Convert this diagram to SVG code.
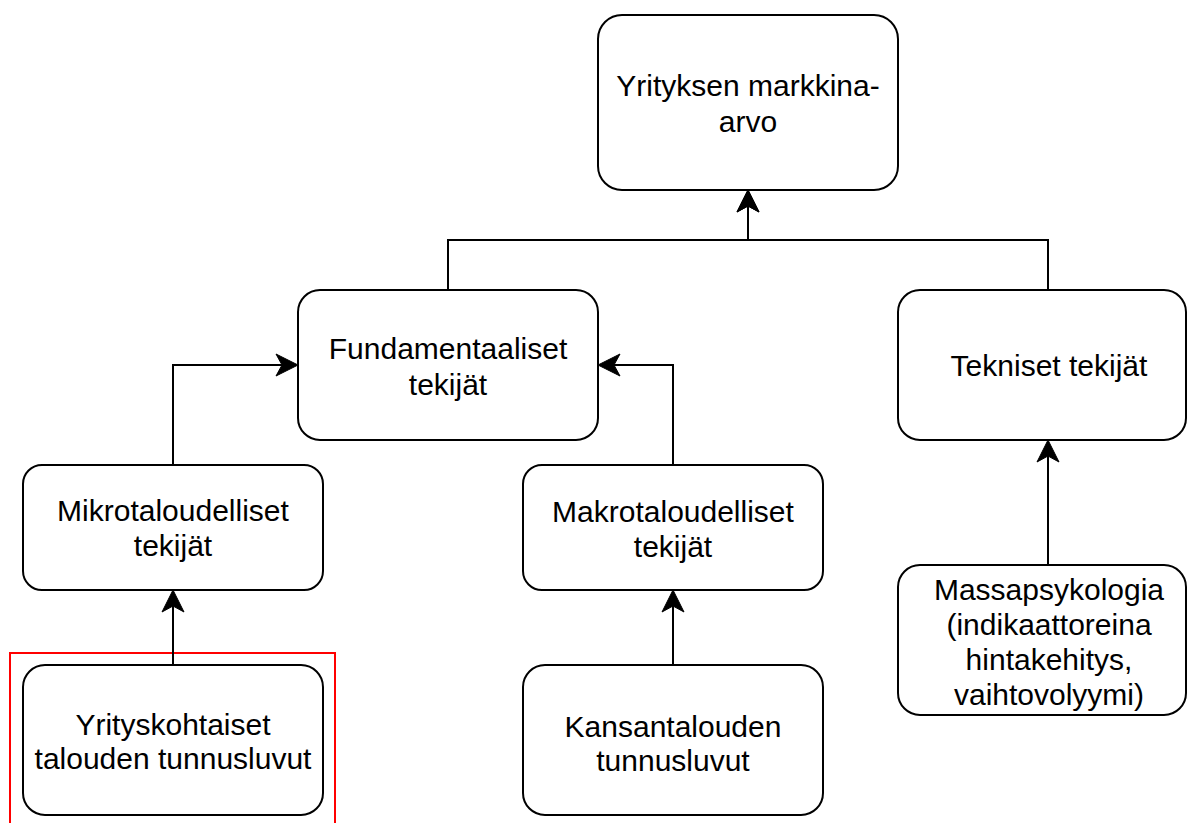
<svg xmlns="http://www.w3.org/2000/svg" width="1188" height="823" viewBox="0 0 1188 823">
  <style>
    .node rect { fill: #ffffff; stroke: #000000; stroke-width: 2; }
    .node text { font-family: "Liberation Sans", Arial, sans-serif; font-size: 30px; fill: #000000; text-anchor: middle; }
    .edge { fill: none; stroke: #000000; stroke-width: 2; }
  </style>
  <defs>
    <marker id="arrow" markerUnits="userSpaceOnUse" viewBox="-8 -13 26 26" markerWidth="26" markerHeight="26" refX="0" refY="0" orient="auto" overflow="visible">
      <path d="M16,0 L-6,-11 L0,0 L-6,11 Z" fill="#000000" stroke="#000000" stroke-width="1" stroke-linejoin="miter"/>
    </marker>
  </defs>
  <rect id="highlight" x="10" y="653" width="325" height="180" fill="none" stroke="#ff0000" stroke-width="2"/>
  <g id="connectors">
    <path class="edge" d="M448,290 L448,240 L748,240 L748,206" marker-end="url(#arrow)"/>
    <path class="edge" d="M1048,290 L1048,240 L748,240 L748,206" marker-end="url(#arrow)"/>
    <path class="edge" d="M173,465 L173,365 L282,365" marker-end="url(#arrow)"/>
    <path class="edge" d="M673,465 L673,365 L614,365" marker-end="url(#arrow)"/>
    <path class="edge" d="M173,665 L173,606" marker-end="url(#arrow)"/>
    <path class="edge" d="M673,665 L673,606" marker-end="url(#arrow)"/>
    <path class="edge" d="M1048,565 L1048,456" marker-end="url(#arrow)"/>
  </g>
  <g id="node-markkina-arvo" class="node">
    <rect x="598" y="15" width="300" height="175" rx="24" ry="24"/>
    <text x="748" y="96">Yrityksen markkina-</text>
    <text x="748" y="132">arvo</text>
  </g>
  <g id="node-fundamentaaliset" class="node">
    <rect x="298" y="290" width="300" height="150" rx="22" ry="22"/>
    <text x="448" y="359">Fundamentaaliset</text>
    <text x="448" y="395">tekijät</text>
  </g>
  <g id="node-tekniset" class="node">
    <rect x="898" y="290" width="288" height="150" rx="22" ry="22"/>
    <text x="1049" y="376">Tekniset tekijät</text>
  </g>
  <g id="node-mikro" class="node">
    <rect x="23" y="465" width="300" height="125" rx="19" ry="19"/>
    <text x="173" y="521">Mikrotaloudelliset</text>
    <text x="173" y="556">tekijät</text>
  </g>
  <g id="node-makro" class="node">
    <rect x="523" y="465" width="300" height="125" rx="19" ry="19"/>
    <text x="673" y="522">Makrotaloudelliset</text>
    <text x="673" y="557">tekijät</text>
  </g>
  <g id="node-massapsykologia" class="node">
    <rect x="898" y="565" width="288" height="150" rx="22" ry="22"/>
    <text x="1049" y="600">Massapsykologia</text>
    <text x="1049" y="635">(indikaattoreina</text>
    <text x="1049" y="670">hintakehitys,</text>
    <text x="1049" y="705">vaihtovolyymi)</text>
  </g>
  <g id="node-yrityskohtaiset" class="node">
    <rect x="23" y="665" width="300" height="150" rx="22" ry="22"/>
    <text x="173" y="735">Yrityskohtaiset</text>
    <text x="173" y="769">talouden tunnusluvut</text>
  </g>
  <g id="node-kansantalouden" class="node">
    <rect x="523" y="665" width="300" height="150" rx="22" ry="22"/>
    <text x="673" y="737">Kansantalouden</text>
    <text x="673" y="771">tunnusluvut</text>
  </g>
</svg>
